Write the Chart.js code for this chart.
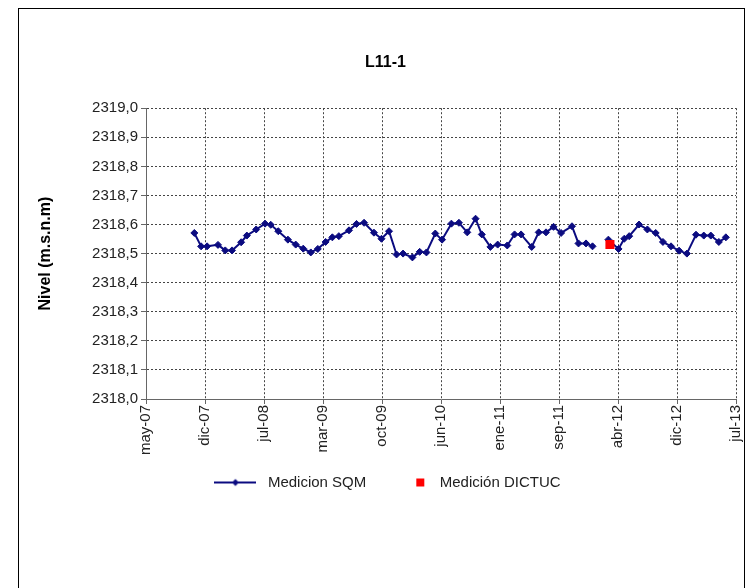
<!DOCTYPE html>
<html>
<head>
<meta charset="utf-8">
<script src="https://cdn.jsdelivr.net/npm/chart.js@4/dist/chart.umd.min.js"></script>
<style>
  html, body { margin: 0; padding: 0; background: #fff; }
  .frame { position: absolute; left: 18px; top: 8px; width: 727px; height: 600px; border: 1px solid #000; box-sizing: border-box; }
  .chart-box { position: absolute; left: 0; top: 0; width: 752px; height: 588px; }
</style>
</head>
<body>
<div class="frame"></div>
<div class="chart-box"><canvas id="chart" width="752" height="588"></canvas></div>
<script>
// Medicion SQM (monthly readings, one blank reading leaves a gap)
const sqmDates = [
  '2007-11-03', '2007-11-29', '2007-12-22', '2008-02-02', '2008-03-01', '2008-03-27',
  '2008-05-01', '2008-05-23', '2008-06-28', '2008-08-01', '2008-08-23', '2008-09-21',
  '2008-10-28', '2008-11-27', '2008-12-26', '2009-01-24', '2009-02-20', '2009-03-22',
  '2009-04-17', '2009-05-12', '2009-06-20', '2009-07-19', '2009-08-17', '2009-09-24',
  '2009-10-23', '2009-11-21', '2009-12-20', '2010-01-14', '2010-02-19', '2010-03-19',
  '2010-04-14', '2010-05-18', '2010-06-13', '2010-07-19', '2010-08-17', '2010-09-18',
  '2010-10-20', '2010-11-13', '2010-12-16', '2011-01-13', '2011-02-19', '2011-03-19',
  '2011-04-13', '2011-05-24', '2011-06-20', '2011-07-18', '2011-08-16', '2011-09-14',
  '2011-10-26', '2011-11-20', '2011-12-19', '2012-01-13', '2012-02-15', '2012-03-14',
  '2012-04-22', '2012-05-14', '2012-06-02', '2012-07-10', '2012-08-11', '2012-09-12',
  '2012-10-10', '2012-11-10', '2012-12-11', '2013-01-10', '2013-02-14', '2013-03-16',
  '2013-04-12', '2013-05-13', '2013-06-09'
];
const sqmValues = [
  2318.571, 2318.525, 2318.525, 2318.530, 2318.511, 2318.511,
  2318.539, 2318.562, 2318.583, 2318.603, 2318.599, 2318.577,
  2318.548, 2318.531, 2318.517, 2318.504, 2318.516, 2318.540,
  2318.556, 2318.560, 2318.580, 2318.602, 2318.606, 2318.572,
  2318.551, 2318.577, 2318.497, 2318.500, 2318.487, 2318.506,
  2318.504, 2318.569, 2318.548, 2318.603, 2318.606, 2318.573,
  2318.620, 2318.566, 2318.523, 2318.531, 2318.528, 2318.566,
  2318.566, 2318.523, 2318.573, 2318.573, 2318.592, 2318.571,
  2318.594, 2318.535, 2318.535, 2318.525, null, 2318.548,
  2318.516, 2318.551, 2318.560, 2318.600, 2318.583, 2318.571,
  2318.540, 2318.525, 2318.510, 2318.500, 2318.565, 2318.562,
  2318.562, 2318.540, 2318.556
];

// Medición DICTUC
const dictucDates = ['2012-03-20'];
const dictucValues = [2318.531];

// date axis: starts may-07, one tick every 227 days
const axisStart = '2007-05-01';
const tickDays = 227;
const xTickLabels = ['may-07', 'dic-07', 'jul-08', 'mar-09', 'oct-09', 'jun-10',
  'ene-11', 'sep-11', 'abr-12', 'dic-12', 'jul-13'];

const NAVY = '#0b0b80';
const RED = '#ff0000';
const FONT = 'Arial, "Liberation Sans", sans-serif';

function toDay(str) {
  const [y, m, d] = str.split('-').map(Number);
  const [y0, m0, d0] = axisStart.split('-').map(Number);
  return (Date.UTC(y, m - 1, d) - Date.UTC(y0, m0 - 1, d0)) / 86400000;
}

function toPoints(dates, values) {
  return dates.map((d, i) => ({ x: toDay(d), y: values[i] }));
}

// legend icons: line with diamond, and a small red square
function lineIcon() {
  const c = document.createElement('canvas');
  c.width = 42;
  c.height = 10;
  const g = c.getContext('2d');
  g.strokeStyle = NAVY;
  g.lineWidth = 2;
  g.beginPath();
  g.moveTo(0, 5);
  g.lineTo(42, 5);
  g.stroke();
  g.fillStyle = NAVY;
  g.beginPath();
  g.moveTo(21, 1.5);
  g.lineTo(24.5, 5);
  g.lineTo(21, 8.5);
  g.lineTo(17.5, 5);
  g.closePath();
  g.fill();
  return c;
}

function squareIcon() {
  const c = document.createElement('canvas');
  c.width = 42;
  c.height = 10;
  const g = c.getContext('2d');
  g.fillStyle = RED;
  g.fillRect(30, 1, 8, 8);
  return c;
}

const legendIcons = [lineIcon(), squareIcon()];

const ctx = document.getElementById('chart').getContext('2d');
new Chart(ctx, {
  type: 'line',
  data: {
    datasets: [
      {
        label: 'Medicion SQM',
        data: toPoints(sqmDates, sqmValues),
        borderColor: NAVY,
        backgroundColor: NAVY,
        borderWidth: 2,
        pointStyle: 'rectRot',
        pointRadius: 3.5,
        pointBorderWidth: 1,
        pointBackgroundColor: NAVY,
        pointBorderColor: NAVY,
        spanGaps: false,
        tension: 0,
        order: 1
      },
      {
        label: 'Medición DICTUC',
        data: toPoints(dictucDates, dictucValues),
        showLine: false,
        borderColor: RED,
        backgroundColor: RED,
        pointStyle: 'rect',
        pointRadius: 6.4,
        pointBorderWidth: 0,
        pointBackgroundColor: RED,
        order: 0
      }
    ]
  },
  options: {
    responsive: false,
    animation: false,
    events: [],
    layout: { padding: { top: 45, left: 34, right: 15, bottom: 88 } },
    plugins: {
      tooltip: { enabled: false },
      title: {
        display: true,
        text: 'L11-1',
        color: '#000',
        font: { family: FONT, size: 16, weight: 'bold' },
        padding: { top: 8, bottom: 36 }
      },
      legend: {
        position: 'bottom',
        labels: {
          usePointStyle: true,
          pointStyleWidth: 50,
          padding: 16,
          color: '#222',
          font: { family: FONT, size: 15 },
          generateLabels: (chart) => chart.data.datasets.map((ds, i) => ({
            text: ds.label,
            pointStyle: legendIcons[i],
            fontColor: '#222',
            fillStyle: 'transparent',
            strokeStyle: 'transparent',
            lineWidth: 0,
            hidden: false,
            datasetIndex: i
          }))
        }
      }
    },
    scales: {
      x: {
        type: 'linear',
        min: 0,
        max: tickDays * (xTickLabels.length - 1),
        afterFit: (scale) => { scale.height = 60; },
        ticks: {
          stepSize: tickDays,
          autoSkip: false,
          maxRotation: 90,
          minRotation: 90,
          color: '#222',
          font: { family: FONT, size: 15, lineHeight: 1 },
          padding: 1,
          callback: (value, index) => xTickLabels[index]
        },
        grid: { color: '#444', tickColor: '#666', tickLength: 5 },
        border: { color: '#666', width: 1, dash: [2, 2] }
      },
      y: {
        min: 2318,
        max: 2319,
        afterFit: (scale) => { scale.width = 112; },
        title: {
          display: true,
          text: 'Nivel (m.s.n.m)',
          color: '#000',
          font: { family: FONT, size: 16, weight: 'bold' },
          padding: { top: 2, bottom: 0 }
        },
        ticks: {
          stepSize: 0.1,
          color: '#222',
          font: { family: FONT, size: 15 },
          padding: 3,
          callback: (value) => value.toFixed(1).replace('.', ',')
        },
        grid: { color: '#444', tickColor: '#666', tickLength: 5 },
        border: { color: '#666', width: 1, dash: [2, 2] }
      }
    }
  }
});
</script>
</body>
</html>
